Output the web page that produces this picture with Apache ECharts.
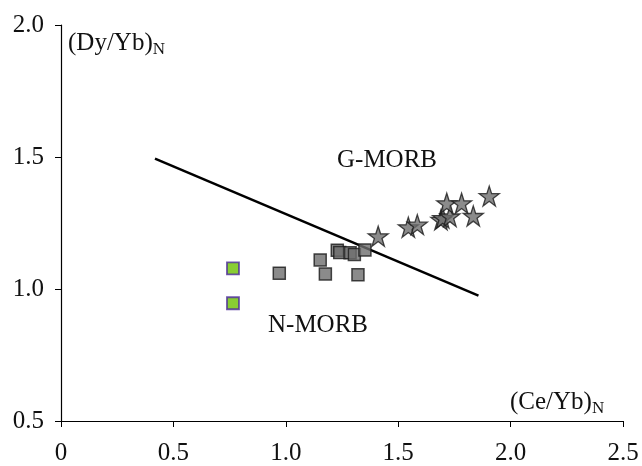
<!DOCTYPE html>
<html>
<head>
<meta charset="utf-8">
<script src="https://cdn.jsdelivr.net/npm/echarts@6/dist/echarts.min.js"></script>
<style>
  html, body { margin: 0; padding: 0; background: #fff; }
  #chart { width: 642px; height: 466px; }
</style>
</head>
<body>
<div id="chart"></div>
<script>
// N-MORB samples (green squares)
var nMorb = [[0.765, 1.078], [0.765, 0.946]];
// transitional samples (grey squares)
var greySquares = [
  [0.971, 1.060], [1.153, 1.110], [1.176, 1.057], [1.321, 1.054],
  [1.229, 1.147], [1.240, 1.138], [1.286, 1.137], [1.305, 1.131], [1.352, 1.148]
];
// G-MORB samples (stars)
var gMorb = [
  [1.411, 1.200], [1.545, 1.234], [1.585, 1.244], [1.690, 1.262],
  [1.698, 1.269], [1.730, 1.275], [1.716, 1.325], [1.782, 1.325],
  [1.834, 1.277], [1.905, 1.352]
];
// dividing line
var divider = [[0.418, 1.494], [1.857, 0.975]];
var xTicks = ['0', '0.5', '1.0', '1.5', '2.0', '2.5'];
var yTicks = ['0.5', '1.0', '1.5', '2.0'];

var font = '"Liberation Serif", "DejaVu Serif", serif';
var myChart = echarts.init(document.getElementById('chart'));

myChart.setOption({
  animation: false,
  grid: { left: 61, right: 19, top: 25, bottom: 41 },
  xAxis: {
    type: 'value', min: 0, max: 2.5, interval: 0.5,
    axisLine: { lineStyle: { color: '#000', width: 1.2 } },
    axisTick: { show: true, length: 6, lineStyle: { color: '#000' } },
    splitLine: { show: false },
    axisLabel: {
      margin: 20, fontFamily: font, fontSize: 25, color: '#111',
      formatter: function (v) { return xTicks[Math.round(v / 0.5)]; }
    }
  },
  yAxis: {
    type: 'value', min: 0.5, max: 2.0, interval: 0.5,
    axisLine: { show: true, lineStyle: { color: '#000', width: 1.2 } },
    axisTick: { show: true, length: 6, lineStyle: { color: '#000' } },
    splitLine: { show: false },
    axisLabel: {
      margin: 17, fontFamily: font, fontSize: 25, color: '#111',
      formatter: function (v) { return yTicks[Math.round((v - 0.5) / 0.5)]; }
    }
  },
  series: [
    {
      type: 'line', data: divider, symbol: 'none',
      lineStyle: { color: '#000', width: 2.5 }, z: 1
    },
    {
      type: 'scatter', data: greySquares, symbol: 'rect', symbolSize: 12,
      itemStyle: { color: '#6e6e6e', borderColor: '#1a1a1a', borderWidth: 1.5 }, z: 2
    },
    {
      type: 'scatter', data: nMorb, symbol: 'rect', symbolSize: 12,
      itemStyle: { color: '#6cc000', borderColor: '#4b2a9a', borderWidth: 1.8 }, z: 2
    },
    {
      type: 'scatter', data: gMorb,
      symbol: 'path://M50,0 L61.8,35.4 L100,35.4 L69.1,57.3 L80.9,93.1 L50,71 L19.1,93.1 L30.9,57.3 L0,35.4 L38.2,35.4 Z',
      symbolSize: 20,
      itemStyle: { color: '#6e6e6e', borderColor: '#1a1a1a', borderWidth: 1.3 }, z: 3
    }
  ],
  graphic: [
    {
      type: 'text', left: 68, top: 31,
      style: {
        text: '{a|(Dy/Yb)}{s|N}',
        rich: {
          a: { fontFamily: font, fontSize: 25, fill: '#111' },
          s: { fontFamily: font, fontSize: 17, fill: '#111', padding: [12, 0, 0, 0] }
        }
      }
    },
    {
      type: 'text', left: 510, top: 390,
      style: {
        text: '{a|(Ce/Yb)}{s|N}',
        rich: {
          a: { fontFamily: font, fontSize: 25, fill: '#111' },
          s: { fontFamily: font, fontSize: 17, fill: '#111', padding: [12, 0, 0, 0] }
        }
      }
    },
    {
      type: 'text', left: 337, top: 148,
      style: { text: 'G-MORB', fontFamily: font, fontSize: 25, fill: '#111' }
    },
    {
      type: 'text', left: 268, top: 313,
      style: { text: 'N-MORB', fontFamily: font, fontSize: 25, fill: '#111' }
    }
  ]
});
</script>
</body>
</html>
